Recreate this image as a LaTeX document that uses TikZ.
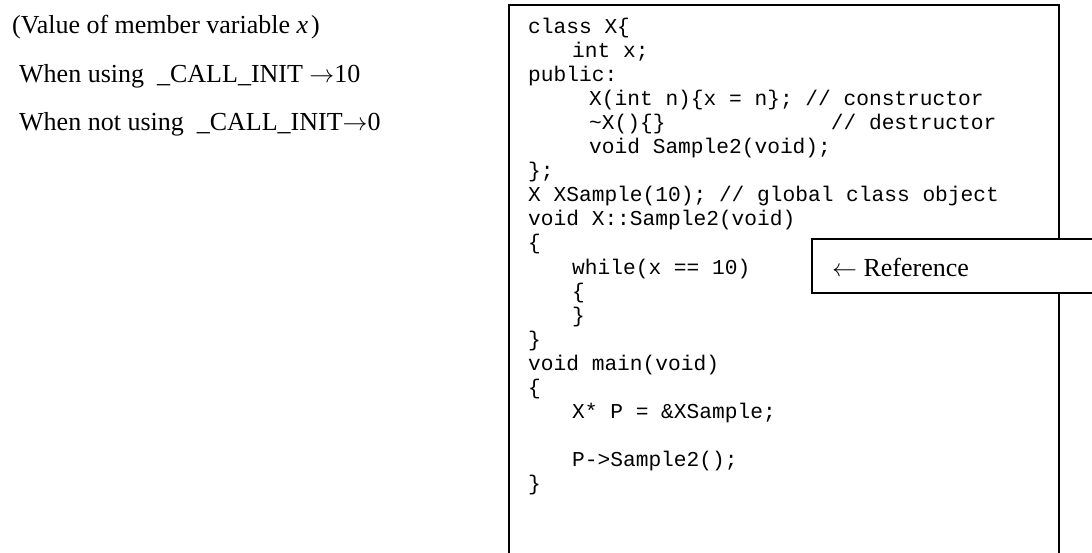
\documentclass[tikz,border=0pt]{standalone}
\usepackage{fontspec}
\setmainfont{Liberation Serif}
\newfontfamily\codefam{Liberation Mono}
\tikzset{
  frame/.style={draw, line width=1.6pt, inner sep=0pt, anchor=north west},
  plain/.style={inner sep=0pt, anchor=base west, font=\fontsize{26}{30}\selectfont},
  codetext/.style={inner sep=0pt, anchor=base west, font=\codefam\fontsize{21.2}{24.1}\selectfont}
}
\newcommand\cl[1]{\hbox{#1}}
\begin{document}
\begin{tikzpicture}[x=1pt,y=-1pt]
\useasboundingbox (0,0) rectangle (1092,552);
\clip (0,0) rectangle (1092,552);
% left notes
\node[plain] (note1) at (12,33) {(Value of member variable \textit{x}\kern3pt)};
\node[plain] (note2) at (19,82) {When using\ \ \_CALL\_INIT $\rightarrow$10};
\node[plain] (note3) at (19,130) {When not using\ \ \_CALL\_INIT$\rightarrow$0};
% code box
\node[frame, minimum width=550pt, minimum height=620pt] (codebox) at (508,4) {};
\node[codetext] (code) at (528,33) {\vtop{\baselineskip=24.1pt\lineskiplimit=-50pt\lineskip=0pt
\cl{class X\{}
\cl{\hspace*{44pt}int x;}
\cl{public:}
\cl{\hspace*{61pt}X(int n)\{x = n\}; // constructor}
\cl{\hspace*{61pt}\textasciitilde X()\{\}\hspace*{7.8em}// destructor}
\cl{\hspace*{61pt}void Sample2(void);}
\cl{\};}
\cl{X XSample(10); // global class object}
\cl{void X::Sample2(void)}
\cl{\{}
\cl{\hspace*{44pt}while(x == 10)}
\cl{\hspace*{44pt}\{}
\cl{\hspace*{44pt}\}}
\cl{\}}
\cl{void main(void)}
\cl{\{}
\cl{\hspace*{44pt}X* P = \&XSample;}
\cl{}
\cl{\hspace*{44pt}P->Sample2();}
\cl{\}}
}};
% reference box
\node[frame, fill=white, minimum width=320pt, minimum height=54pt] (ref) at (811,238) {};
\node[plain] (reflabel) at (832,276) {$\leftarrow$ Reference};
\end{tikzpicture}
\end{document}
